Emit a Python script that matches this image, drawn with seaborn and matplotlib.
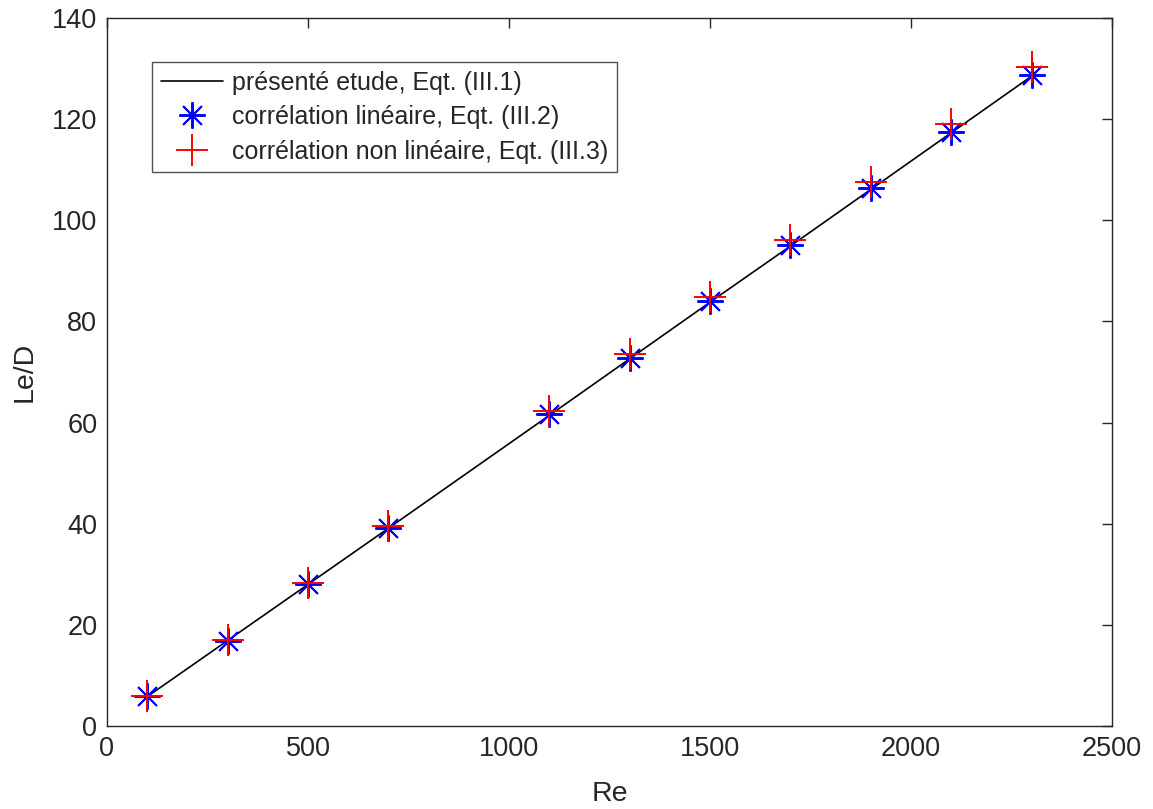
import matplotlib
matplotlib.use("Agg")
import matplotlib.pyplot as plt
import seaborn as sns
import numpy as np

re_vals = [100, 300, 500, 700, 1100, 1300, 1500, 1700, 1900, 2100, 2300]
line_vals = [5.8, 16.9, 28.0, 39.1, 61.4, 72.6, 83.8, 94.9, 106.1, 117.3, 128.5]
lin_vals = [5.9, 16.9, 28.0, 39.2, 61.6, 72.8, 84.0, 95.2, 106.4, 117.5, 128.7]
nonlin_vals = [5.9, 17.1, 28.3, 39.6, 62.2, 73.6, 84.9, 96.2, 107.6, 119.0, 130.3]

sns.set_theme(style="white")
plt.rcParams['font.family'] = ['Liberation Sans', 'DejaVu Sans']

fig = plt.figure(figsize=(11.53, 8.09), dpi=100)
ax = fig.add_axes([0.0928, 0.1026, 0.8716, 0.8751])

sns.lineplot(x=re_vals, y=line_vals, ax=ax, color='black', linewidth=1.2,
             label='présenté etude, Eqt. (III.1)')
ax.plot(re_vals, lin_vals, linestyle='none', marker=(8, 2, 0),
        markersize=19, markeredgewidth=1.4, color='blue',
        label='corrélation linéaire, Eqt. (III.2)')
ax.plot(re_vals, nonlin_vals, linestyle='none', marker='+',
        markersize=23, markeredgewidth=1.4, color='red',
        label='corrélation non linéaire, Eqt. (III.3)')

ax.set_xlim(0, 2500)
ax.set_ylim(0, 140)
ax.set_xticks(np.arange(0, 2501, 500))
ax.set_yticks(np.arange(0, 141, 20))
ax.set_xlabel('Re', fontsize=20.5, color='#262626', labelpad=14)
ax.set_ylabel('Le/D', fontsize=20.5, color='#262626', labelpad=10)
ax.tick_params(axis='both', which='both', direction='in', top=True, right=True,
               length=7, width=1, labelsize=19.5, colors='#262626', pad=7)
for s in ax.spines.values():
    s.set_visible(True)
    s.set_color('#262626')
    s.set_linewidth(1.0)

leg = ax.legend(loc='upper left', bbox_to_anchor=(0.045, 0.938), fontsize=18,
                frameon=True, fancybox=False, edgecolor='#262626',
                handlelength=2.5, borderpad=0.35, labelspacing=0.42,
                handletextpad=0.35, borderaxespad=0)
leg.get_frame().set_linewidth(1.0)

fig.savefig('out.png', dpi=100)
